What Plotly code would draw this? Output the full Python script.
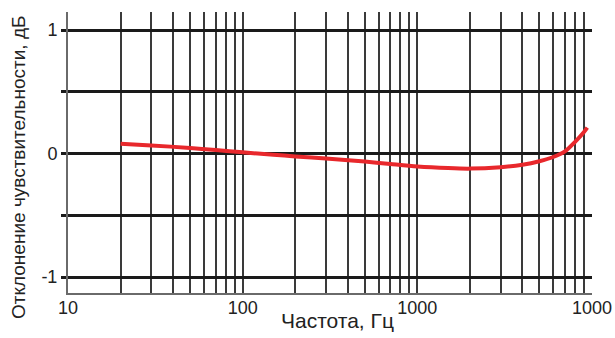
import plotly.graph_objects as go

# Data
freq_hz = [20, 30, 50, 70, 100, 150, 200, 300, 500, 700, 1000, 1500, 2000, 3000, 4000, 5000, 6000, 7000, 8000, 9000, 9400]
deviation_db = [0.08, 0.066, 0.045, 0.028, 0.01, -0.01, -0.023, -0.04, -0.065, -0.085, -0.105, -0.118, -0.122, -0.11, -0.09, -0.062, -0.028, 0.018, 0.095, 0.175, 0.21]

x_tick_vals = [m * 10 ** d for d in (1, 2, 3) for m in range(1, 10)] + [10000]
x_tick_text = ["10" if v == 10 else "100" if v == 100 else "1000" if v == 1000 else "1000" if v == 10000 else "" for v in x_tick_vals]
y_tick_vals = [-1, -0.5, 0, 0.5, 1]
y_tick_text = ["-1", "", "0", "", "1"]

x_title = "Частота, Гц"
y_title = "Отклонение чувствительности, дБ"

font_family = "Liberation Sans, Arial, Helvetica, sans-serif"

fig = go.Figure()
fig.add_trace(go.Scatter(
    x=freq_hz, y=deviation_db, mode="lines",
    line=dict(color="#e8282c", width=4, shape="spline", smoothing=0.8),
    showlegend=False, hoverinfo="skip",
))

fig.update_layout(
    width=615, height=338,
    margin=dict(l=68, r=23, t=12, b=45, autoexpand=False),
    paper_bgcolor="white", plot_bgcolor="white",
    font=dict(family=font_family, color="#222222"),
    xaxis=dict(
        type="log", range=[1, 4], automargin=False,
        tickvals=x_tick_vals, ticktext=x_tick_text,
        showgrid=True, gridcolor="#3a3a3a", gridwidth=2,
        ticks="", tickfont=dict(size=18, color="#222222"),
        ticklabelstandoff=-3,
        showline=True, linecolor="#6a6a6a", linewidth=2, mirror=False,
        zeroline=False, layer="below traces",
    ),
    yaxis=dict(
        range=[-1.129, 1.146], automargin=False,
        tickvals=y_tick_vals, ticktext=y_tick_text,
        showgrid=True, gridcolor="#1a1a1a", gridwidth=3,
        ticks="outside", ticklen=5, tickwidth=3, tickcolor="#1a1a1a",
        tickfont=dict(size=18, color="#222222"),
        showline=True, linecolor="#6a6a6a", linewidth=2,
        zeroline=False, layer="below traces",
    ),
    annotations=[
        dict(text=x_title, xref="paper", yref="paper", x=(337 - 68) / 524, y=-(320 - 293) / 281,
             xanchor="center", yanchor="middle", showarrow=False,
             font=dict(size=21, color="#222222", family=font_family)),
        dict(text=y_title, xref="paper", yref="paper", x=-(68 - 18) / 524, y=(293 - 168) / 281,
             xanchor="center", yanchor="middle", showarrow=False, textangle=-90,
             font=dict(size=19, color="#222222", family=font_family)),
    ],
)

fig.write_html("out.html")
